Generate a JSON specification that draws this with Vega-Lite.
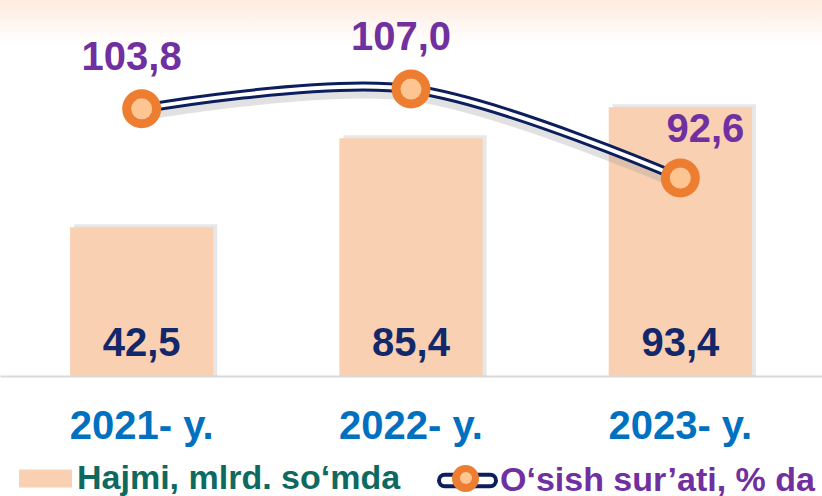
{
  "$schema": "https://vega.github.io/schema/vega-lite/v6.json",
  "width": 822,
  "height": 376,
  "autosize": {"type": "none"},
  "padding": {"left": 0, "top": 0, "right": 0, "bottom": 120},
  "background": "#ffffff",
  "config": {
    "font": "Liberation Sans",
    "locale": {"number": {"decimal": ",", "thousands": " ", "grouping": [3], "currency": ["", ""]}},
    "view": {
      "stroke": null,
      "fill": {"gradient": "linear", "x1": 0, "y1": 0, "x2": 0, "y2": 1,
        "stops": [{"offset": 0, "color": "#fdebdf"}, {"offset": 0.12, "color": "#ffffff"}, {"offset": 1, "color": "#ffffff"}]}
    }
  },
  "data": {"values": [
    {"Yil": "2021- y.", "Hajmi": 42.5, "Osish": 103.8},
    {"Yil": "2022- y.", "Hajmi": 85.4, "Osish": 107.0},
    {"Yil": "2023- y.", "Hajmi": 93.4, "Osish": 92.6}
  ]},
  "encoding": {
    "x": {
      "field": "Yil", "type": "nominal", "sort": null,
      "scale": {"paddingInner": 0.4684, "paddingOuter": 0.2602},
      "axis": {
        "title": null, "labelAngle": 0, "labelFont": "Liberation Sans", "labelFontSize": 40,
        "labelFontWeight": "bold", "labelColor": "#0070c0", "labelPadding": 30,
        "ticks": false, "domainColor": "#d9d9d9", "domainWidth": 2, "grid": false
      }
    }
  },
  "layer": [
    {
      "layer": [
        {
          "mark": {"type": "bar", "color": "#b0b0b0", "opacity": 0.3, "xOffset": 4, "yOffset": -3},
          "encoding": {
            "y": {"field": "Hajmi", "type": "quantitative", "scale": {"type": "pow", "exponent": 3, "domain": [-94.3, 113.8], "zero": false, "nice": false}, "axis": null},
            "y2": {"datum": -94.3}
          }
        },
        {
          "mark": {"type": "bar"},
          "encoding": {
            "y": {"field": "Hajmi", "type": "quantitative"},
            "y2": {"datum": -94.3},
            "fill": {
              "datum": "Hajmi, mlrd. so‘mda", "type": "nominal",
              "scale": {"range": ["#f9d0b2"]},
              "legend": {
                "orient": "none", "legendX": 19, "legendY": 452, "title": null,
                "symbolType": "M-1,-0.34H1V0.34H-1Z", "symbolSize": 2809, "symbolStrokeWidth": 0,
                "symbolFillColor": "#f7c09c",
                "labelFont": "Liberation Sans", "labelFontSize": 34, "labelFontWeight": "bold",
                "labelColor": "#0e6a60", "labelLimit": 0, "labelOffset": 5
              }
            }
          }
        },
        {
          "mark": {"type": "text", "fontSize": 40, "fontWeight": "bold", "color": "#12286b", "baseline": "middle", "dy": -32},
          "encoding": {
            "y": {"datum": -94.3},
            "text": {"field": "Hajmi", "type": "quantitative", "format": ".1f"}
          }
        }
      ]
    },
    {
      "layer": [
        {
          "mark": {"type": "line", "interpolate": "cardinal", "strokeWidth": 10, "color": "#9a9a9a", "opacity": 0.3, "yOffset": 7},
          "encoding": {
            "y": {"field": "Osish", "type": "quantitative", "scale": {"domain": [60.52, 121.43], "zero": false, "nice": false}, "axis": null}
          }
        },
        {
          "mark": {"type": "line", "interpolate": "cardinal", "strokeWidth": 10, "color": "#0c1f5c"},
          "encoding": {
            "y": {"field": "Osish", "type": "quantitative"},
            "stroke": {
              "datum": "O‘sish sur’ati, % da", "type": "nominal",
              "scale": {"range": ["#0c1f5c"]},
              "legend": {
                "orient": "none", "legendX": 437, "legendY": 450, "title": null,
                "symbolType": "M-0.8,-0.2H0.8A0.2,0.2 0 0 1 0.8,0.2H-0.8A0.2,0.2 0 0 1 -0.8,-0.2Z",
                "symbolSize": 3249, "symbolStrokeWidth": 4, "symbolFillColor": "#ffffff", "symbolStrokeColor": "#0c1f5c",
                "labelFont": "Liberation Sans", "labelFontSize": 34, "labelFontWeight": "bold",
                "labelColor": "#7030a0", "labelLimit": 0, "labelOffset": 2
              }
            }
          }
        },
        {
          "mark": {"type": "line", "interpolate": "cardinal", "strokeWidth": 4, "color": "#ffffff"},
          "encoding": {"y": {"field": "Osish", "type": "quantitative"}}
        },
        {
          "mark": {"type": "point", "filled": true, "color": "#ed7d31", "size": 1521, "opacity": 1, "strokeWidth": 0},
          "encoding": {
            "y": {"field": "Osish", "type": "quantitative"},
            "shape": {
              "datum": "marker", "type": "nominal",
              "scale": {"range": ["circle"]},
              "legend": {
                "orient": "none", "legendX": 452, "legendY": 465, "title": null, "zindex": 2,
                "symbolSize": 729, "symbolStrokeWidth": 0, "symbolFillColor": "#ed7d31",
                "labelExpr": "''", "labelFontSize": 1
              }
            }
          }
        },
        {
          "mark": {"type": "point", "filled": true, "color": "#fdc591", "size": 441, "strokeWidth": 0},
          "encoding": {
            "y": {"field": "Osish", "type": "quantitative"},
            "opacity": {
              "datum": "inner", "type": "nominal",
              "scale": {"range": [1]},
              "legend": {
                "orient": "none", "legendX": 460, "legendY": 472, "title": null, "zindex": 3,
                "symbolType": "circle", "symbolSize": 144, "symbolStrokeWidth": 0, "symbolFillColor": "#fdc591",
                "labelExpr": "''", "labelFontSize": 1
              }
            }
          }
        },
        {
          "transform": [{"filter": "datum.Yil != '2023- y.'"}],
          "mark": {"type": "text", "fontSize": 40, "fontWeight": "bold", "color": "#7030a0", "baseline": "middle", "dx": -10, "dy": -51},
          "encoding": {
            "y": {"field": "Osish", "type": "quantitative"},
            "text": {"field": "Osish", "type": "quantitative", "format": ".1f"}
          }
        },
        {
          "transform": [{"filter": "datum.Yil == '2023- y.'"}],
          "mark": {"type": "text", "fontSize": 40, "fontWeight": "bold", "color": "#7030a0", "baseline": "middle", "dx": 25, "dy": -48},
          "encoding": {
            "y": {"field": "Osish", "type": "quantitative"},
            "text": {"field": "Osish", "type": "quantitative", "format": ".1f"}
          }
        }
      ]
    }
  ],
  "resolve": {"scale": {"y": "independent"}}
}
